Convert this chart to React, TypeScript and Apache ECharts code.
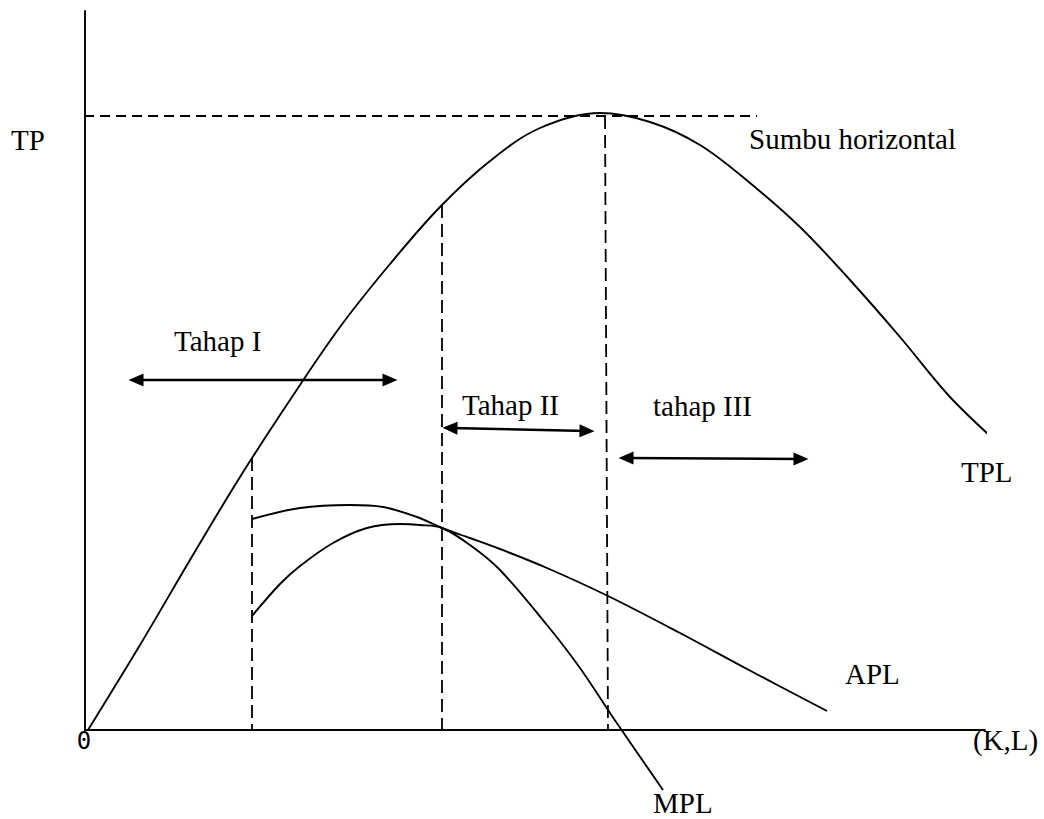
import React, { useEffect, useRef } from "react";
import * as echarts from "echarts";

// Data space: x = input quantity (K,L), y = output
const tplPoints: [number, number][] = [
  [3, 0], [55, 85], [105, 170], [155, 253], [205, 330], [255, 403],
  [305, 466], [355, 523], [405, 569], [455, 602], [515, 617], [565, 608],
  [615, 585], [665, 547], [715, 503], [765, 450], [815, 393], [865, 333],
  [914, 286],
];
const aplPoints: [number, number][] = [
  [167, 211], [215, 222], [265, 225], [298, 223], [332, 213], [357, 202],
  [385, 192], [415, 181], [462, 162], [523, 134], [595, 97], [662, 61], [742, 19],
];
const mplPoints: [number, number][] = [
  [167, 114], [195, 146], [215, 164], [248, 187], [282, 202], [315, 206],
  [335, 205], [357, 202], [385, 185], [415, 160], [462, 105], [495, 62],
  [527, 14], [578, -60],
];
const maxTPLine: [number, number][] = [[-1, 614], [672, 614]];
const stage1Line: [number, number][] = [[167, 272], [167, 0]];
const stage2Line: [number, number][] = [[357, 525], [357, 0]];
const stage3Line: [number, number][] = [[520, 614], [523, 0]];
const stageArrows: [[number, number], [number, number]][] = [
  [[51, 350], [305, 350]],
  [[365, 302], [502, 299]],
  [[541, 272], [716, 271]],
];

const FONT = "'Liberation Serif', 'Times New Roman', serif";

export default function App() {
  const ref = useRef<HTMLDivElement>(null);
  useEffect(() => {
    if (!ref.current) return;
    const chart = echarts.init(ref.current, undefined, { renderer: "svg" });
    const solid = { color: "#000", width: 1.9 };
    const dashedH = { color: "#000", width: 1.8, type: [10, 6] as any };
    const dashedV = { color: "#000", width: 1.8, type: [13, 6] as any };
    const curve = (name: string, data: [number, number][]) => ({
      name,
      type: "line",
      data,
      smooth: 0.35,
      showSymbol: false,
      clip: false,
      lineStyle: solid,
      silent: true,
    });
    const dline = (name: string, data: [number, number][], style: any) => ({
      name,
      type: "line",
      data,
      showSymbol: false,
      clip: false,
      lineStyle: style,
      silent: true,
    });
    const txt = (text: string, x: number, y: number, extra: any = {}) => ({
      type: "text",
      x,
      y,
      style: {
        text,
        fill: "#000",
        font: `29px ${FONT}`,
        align: "left",
        verticalAlign: "middle",
        ...extra,
      },
    });
    chart.setOption({
      animation: false,
      backgroundColor: "#fff",
      grid: { left: 85, top: 11, width: 900, height: 719 },
      xAxis: {
        type: "value",
        min: 0,
        max: 900,
        axisLine: { show: true, onZero: false, lineStyle: { color: "#000", width: 1.9 } },
        axisTick: { show: false },
        axisLabel: { show: false },
        splitLine: { show: false },
      },
      yAxis: {
        type: "value",
        min: 0,
        max: 719,
        axisLine: { show: true, onZero: false, lineStyle: { color: "#000", width: 1.9 } },
        axisTick: { show: false },
        axisLabel: { show: false },
        splitLine: { show: false },
      },
      series: [
        curve("TPL", tplPoints),
        curve("APL", aplPoints),
        curve("MPL", mplPoints),
        dline("Max TP", maxTPLine, dashedH),
        dline("Stage 1", stage1Line, dashedV),
        dline("Stage 2", stage2Line, dashedV),
        dline("Stage 3", stage3Line, dashedV),
        {
          name: "Arrows",
          type: "line",
          data: [],
          silent: true,
          markLine: {
            silent: true,
            animation: false,
            symbol: ["triangle", "triangle"],
            symbolSize: [13, 15],
            label: { show: false },
            lineStyle: { color: "#000", width: 2.4, type: "solid" },
            emphasis: { disabled: true },
            data: stageArrows.map(([a, b]) => [{ coord: a }, { coord: b }]),
          },
        },
      ],
      graphic: [
        txt("TP", 11, 140),
        txt("Sumbu horizontal", 749, 139),
        txt("Tahap I", 174, 341),
        txt("Tahap II", 462, 405),
        txt("tahap III", 653, 406),
        txt("TPL", 961, 472),
        txt("APL", 845, 674),
        txt("(K,L)", 973, 740),
        txt("MPL", 653, 803),
        txt("0", 84, 741, { font: "24px 'DejaVu Sans Mono', monospace", align: "center" }),
      ],
    });
    return () => chart.dispose();
  }, []);
  return (
    <div
      ref={ref}
      style={{ position: "absolute", left: 0, top: 0, width: 1044, height: 819, background: "#fff" }}
    />
  );
}
